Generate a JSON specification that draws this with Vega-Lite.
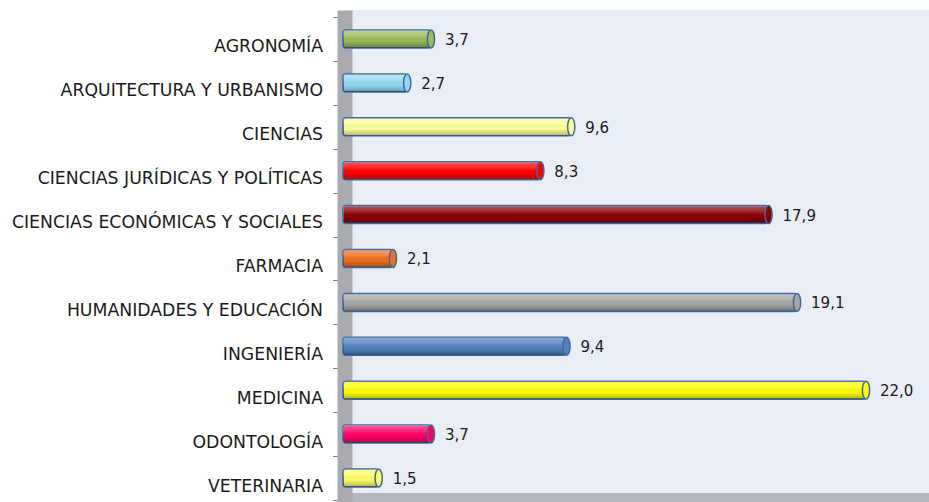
{
  "$schema": "https://vega.github.io/schema/vega-lite/v6.json",
  "autosize": {"type": "none"},
  "padding": {"left": 343, "top": 10, "right": 0, "bottom": 0},
  "width": 586,
  "height": 492,
  "background": "white",
  "config": {
    "view": {"fill": "#E9EDF6", "stroke": null},
    "locale": {"number": {"decimal": ",", "thousands": ".", "grouping": [3], "currency": ["", ""]}},
    "font": "DejaVu Sans"
  },
  "data": {"values": [
    {"facultad": "AGRONOMÍA", "valor": 3.7, "color": "#9BBB59"},
    {"facultad": "ARQUITECTURA Y URBANISMO", "valor": 2.7, "color": "#93D8F0"},
    {"facultad": "CIENCIAS", "valor": 9.6, "color": "#FFFF99"},
    {"facultad": "CIENCIAS JURÍDICAS Y POLÍTICAS", "valor": 8.3, "color": "#FF0000"},
    {"facultad": "CIENCIAS ECONÓMICAS Y SOCIALES", "valor": 17.9, "color": "#8B0000"},
    {"facultad": "FARMACIA", "valor": 2.1, "color": "#F07020"},
    {"facultad": "HUMANIDADES Y EDUCACIÓN", "valor": 19.1, "color": "#A6A6A6"},
    {"facultad": "INGENIERÍA", "valor": 9.4, "color": "#4F81BD"},
    {"facultad": "MEDICINA", "valor": 22.0, "color": "#FFFF00"},
    {"facultad": "ODONTOLOGÍA", "valor": 3.7, "color": "#FF0066"},
    {"facultad": "VETERINARIA", "valor": 1.5, "color": "#FFFF66"}
  ]},
  "encoding": {
    "y": {
      "field": "facultad", "type": "nominal", "sort": null,
      "scale": {"paddingInner": 0, "paddingOuter": 0.1035, "align": 0.775},
      "axis": {
        "title": null,
        "domainColor": "#A9ABB0", "domainWidth": 15, "offset": -1.5,
        "bandPosition": 0, "tickBand": "extent", "tickOffset": 6,
        "tickSize": 12, "tickColor": "#7F7F7F", "tickWidth": 1,
        "labelOffset": 8, "labelPadding": 10, "labelFontSize": 17.3,
        "labelColor": "#1A1A1A", "labelFont": "DejaVu Sans", "labelLimit": 400
      }
    },
    "x": {
      "field": "valor", "type": "quantitative",
      "scale": {"domain": [0, 24.65], "nice": false},
      "axis": {
        "title": null, "labels": false, "ticks": false, "grid": false,
        "domainColor": "#B4B7BD", "domainWidth": 9, "offset": -5
      }
    }
  },
  "layer": [
    {
      "mark": {"type": "bar", "size": 18, "cornerRadius": 3, "stroke": "#3E6A9C", "strokeWidth": 1.5},
      "encoding": {"fill": {"field": "color", "type": "nominal", "scale": null}}
    },
    {
      "mark": {"type": "bar", "size": 18, "cornerRadius": 3,
        "fill": {"gradient": "linear", "x1": 0, "y1": 0, "x2": 0, "y2": 1,
          "stops": [
            {"offset": 0, "color": "rgba(255,255,255,0.35)"},
            {"offset": 0.35, "color": "rgba(255,255,255,0.15)"},
            {"offset": 0.6, "color": "rgba(0,0,0,0)"},
            {"offset": 1, "color": "rgba(0,0,0,0.3)"}
          ]}
      }
    },
    {
      "mark": {"type": "point", "filled": true, "size": 324, "xOffset": 0,
        "shape": "M0,-1A0.4,1 0 1,1 0,1A0.4,1 0 1,1 0,-1Z",
        "stroke": "#3E6A9C", "strokeWidth": 1.5, "opacity": 1},
      "encoding": {"fill": {"field": "color", "type": "nominal", "scale": null}}
    },
    {
      "mark": {"type": "text", "align": "left", "dx": 14, "dy": 1, "fontSize": 15, "color": "#1A1A1A", "font": "DejaVu Sans"},
      "encoding": {"text": {"field": "valor", "type": "quantitative", "format": ".1f"}}
    }
  ]
}
